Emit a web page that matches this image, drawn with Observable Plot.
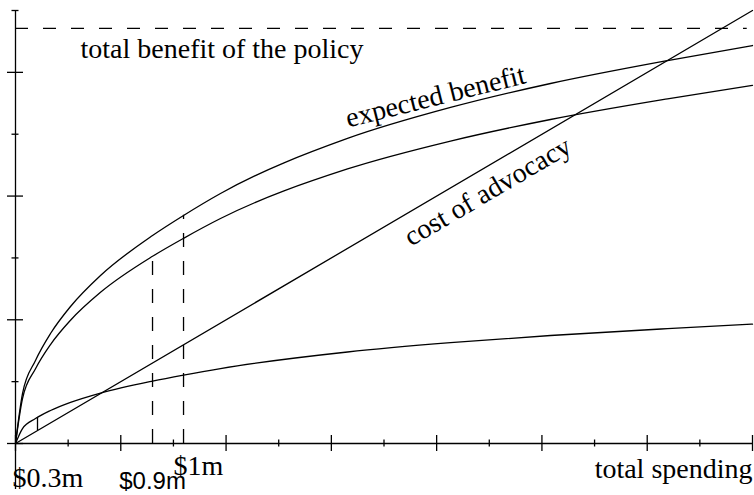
<!DOCTYPE html>
<html>
<head>
<meta charset="utf-8">
<script src="https://cdn.jsdelivr.net/npm/d3@7"></script>
<script src="https://cdn.jsdelivr.net/npm/@observablehq/plot@0.6"></script>
<style>
  html, body { margin: 0; padding: 0; background: #fff; }
  svg { display: block; }
</style>
</head>
<body>
<div id="chart"></div>
<script>
// ---- data (chart units: x = total spending, y = benefit / cost) ----
const spending        = [0, 0.133, 0.380, 0.665, 1.045, 1.615, 2.603, 3.192, 3.894, 6.307, 8.264, 10.163, 12.386, 14.0];
const expectedBenefit = [0, 0.808, 1.342, 1.778, 2.215, 2.716, 3.362, 3.686, 4.041, 4.931, 5.432, 5.820, 6.191, 6.434];
const middleBenefit   = [0, 0.727, 1.208, 1.600, 1.993, 2.444, 3.026, 3.317, 3.637, 4.438, 4.889, 5.238, 5.572, 5.791];
const lowBenefit      = [0, 0.242, 0.403, 0.533, 0.664, 0.815, 1.009, 1.106, 1.212, 1.479, 1.630, 1.746, 1.857, 1.930];
const costSpending    = [0, 14];
const costValues      = [0, 7];
const totalBenefit    = 6.71;
const totalBenefitEnd = 13.9;

const xMajorTicks = [0, 2, 4, 6, 8, 10, 12, 14];
const xMinorTicks = [1, 3, 5, 7, 9, 11, 13];
const yMajorTicks = [0, 2, 4, 6];
const yMinorTicks = [1, 3, 5, 7];

// optimum markers (dashed) and small marker
const optimaX   = [2.603, 3.192];
const optimaTop = [3.03, 3.69];
const markerX   = [0.418];
const markerLow = [0.209];
const markerTop = [0.421];

// text labels
const serifLabels = [
  {text: "total benefit of the policy", x: 1.235, y: 6.385},
  {text: "total spending", x: 14.0, y: -0.42},
  {text: "$0.3m", x: -0.057, y: -0.566},
  {text: "$1m", x: 3.0, y: -0.372}
];
const sansLabels = [{text: "$0.9m", x: 2.603, y: -0.614}];
const curveLabels = [
  {text: "expected benefit", x: 7.979, y: 5.61, angle: -14},
  {text: "cost of advocacy", x: 8.967, y: 4.074, angle: -30.4}
];

// ---- build tables ----
const curves = [];
spending.forEach((s, i) => {
  curves.push({series: "expected", x: s, y: expectedBenefit[i]});
  curves.push({series: "middle", x: s, y: middleBenefit[i]});
  curves.push({series: "low", x: s, y: lowBenefit[i]});
});
const cost = costSpending.map((s, i) => ({x: s, y: costValues[i]}));
const optima = optimaX.map((x, i) => ({x, y: optimaTop[i]}));
const marker = markerX.map((x, i) => ({x, y1: markerLow[i], y2: markerTop[i]}));

const serif = "'Liberation Serif', 'Times New Roman', serif";
const sans = "'Liberation Sans', Arial, sans-serif";
const sw = 1.3;

const chart = Plot.plot({
  width: 754,
  height: 495,
  marginLeft: 15,
  marginRight: 2,
  marginTop: 10,
  marginBottom: 52,
  x: {domain: [0, 14], axis: null},
  y: {domain: [0, 7], axis: null},
  style: {background: "#fff", overflow: "visible"},
  marks: [
    // axes lines
    Plot.ruleY([0], {x1: 0, x2: 14, stroke: "#000", strokeWidth: sw}),
    Plot.ruleX([0], {y1: 7, y2: 0, insetBottom: -46, stroke: "#000", strokeWidth: sw}),
    // x ticks
    Plot.ruleX(xMajorTicks, {x: d => d, y1: 0, y2: 0, insetTop: -8, insetBottom: -8, stroke: "#000", strokeWidth: sw}),
    Plot.ruleX(xMinorTicks, {x: d => d, y1: 0, y2: 0, insetTop: -3.5, insetBottom: -3.5, stroke: "#000", strokeWidth: sw}),
    // y ticks
    Plot.ruleY(yMajorTicks, {y: d => d, x1: 0, x2: 0, insetLeft: -8, insetRight: -8, stroke: "#000", strokeWidth: sw}),
    Plot.ruleY(yMinorTicks, {y: d => d, x1: 0, x2: 0, insetLeft: -3.5, insetRight: -3.5, stroke: "#000", strokeWidth: sw}),
    // total benefit dashed line
    Plot.ruleY([totalBenefit], {x1: 0, x2: totalBenefitEnd, stroke: "#000", strokeWidth: sw, strokeDasharray: "13,15"}),
    // benefit curves
    Plot.line(curves, {x: "x", y: "y", z: "series", curve: "monotone-x", stroke: "#000", strokeWidth: sw}),
    // cost line
    Plot.line(cost, {x: "x", y: "y", stroke: "#000", strokeWidth: sw}),
    // optimum dashed verticals
    Plot.ruleX(optima, {x: "x", y1: 0, y2: "y", stroke: "#000", strokeWidth: sw, strokeDasharray: "14,14"}),
    // small marker
    Plot.ruleX(marker, {x: "x", y1: "y1", y2: "y2", stroke: "#000", strokeWidth: sw}),
    // labels
    Plot.text(serifLabels.slice(0, 1), {x: "x", y: "y", text: "text", textAnchor: "start", fontFamily: serif, fontSize: 28, fill: "#000"}),
    Plot.text(serifLabels.slice(1, 2), {x: "x", y: "y", text: "text", textAnchor: "end", fontFamily: serif, fontSize: 28, fill: "#000"}),
    Plot.text(serifLabels.slice(2), {x: "x", y: "y", text: "text", textAnchor: "start", fontFamily: serif, fontSize: 28, fill: "#000"}),
    Plot.text(sansLabels, {x: "x", y: "y", text: "text", textAnchor: "middle", fontFamily: sans, fontSize: 24, fill: "#000"}),
    Plot.text([curveLabels[0]], {x: "x", y: "y", text: "text", rotate: curveLabels[0].angle, textAnchor: "middle", fontFamily: serif, fontSize: 28, fill: "#000"}),
    Plot.text([curveLabels[1]], {x: "x", y: "y", text: "text", rotate: curveLabels[1].angle, textAnchor: "middle", fontFamily: serif, fontSize: 28, fill: "#000"})
  ]
});
document.getElementById("chart").appendChild(chart);
</script>
</body>
</html>
